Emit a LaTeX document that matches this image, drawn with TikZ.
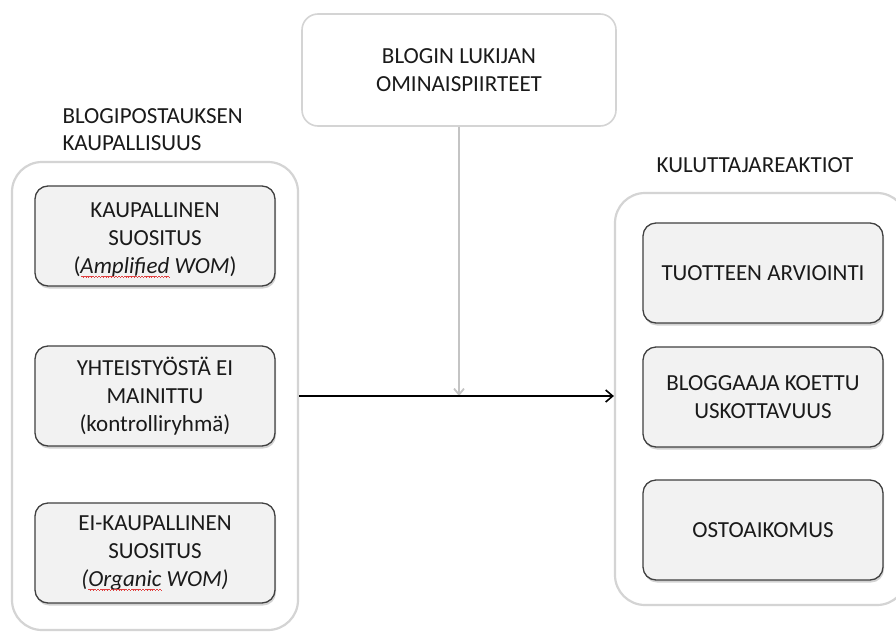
\documentclass[tikz,border=0pt]{standalone}
\usepackage{fontspec}
\setmainfont{Carlito}
\usetikzlibrary{arrows.meta,shadows}

\definecolor{ink}{HTML}{1A1A1A}
\definecolor{boxfill}{HTML}{F2F2F2}
\definecolor{boxline}{HTML}{404040}
\definecolor{paleline}{HTML}{D4D4D4}
\definecolor{arrowgray}{HTML}{C4C4C4}
\definecolor{spellred}{HTML}{E04040}

% red wavy spell-check mark under a word, built from tiny rules
\newsavebox\wordbox
\newdimen\wordwd
\newcommand\wavepiece{\hbox{%
  \rule[-3.6pt]{0.7pt}{0.7pt}\rule[-3.0pt]{0.7pt}{0.7pt}%
  \rule[-3.6pt]{0.7pt}{0.7pt}\rule[-4.2pt]{0.7pt}{0.7pt}}}
\newcommand\spellmark[1]{\leavevmode\sbox\wordbox{#1}\wordwd=\wd\wordbox\relax
  \rlap{\usebox\wordbox}%
  {\color{spellred}\xleaders\wavepiece\hskip\wordwd}}

\tikzset{
  txt/.style={font=\fontsize{23}{28}\selectfont, text=ink, align=center},
  container/.style={draw=paleline, line width=2.2pt, fill=white, rounded corners=30pt},
  topbox/.style={txt, draw=paleline, line width=1.6pt, fill=white, rounded corners=16pt,
    minimum width=314pt, minimum height=112pt},
  itembox/.style={txt, draw=boxline, line width=1.3pt, fill=boxfill, rounded corners=13pt,
    minimum width=240pt, minimum height=100pt,
    drop shadow={shadow xshift=1pt, shadow yshift=-2.5pt, opacity=0.35}},
  heading/.style={font=\fontsize{23}{27}\selectfont, text=ink},
  mainarrow/.style={line width=1.8pt, draw=black, -{Straight Barb[length=7pt,width=12pt,line width=1.6pt]}},
  sidearrow/.style={line width=2.2pt, draw=arrowgray, -{Straight Barb[length=6pt,width=10pt,line width=1.8pt]}}
}

\begin{document}
\begin{tikzpicture}[x=1pt,y=-1pt]
  \useasboundingbox (0,0) rectangle (896,632);
  \clip (0,0) rectangle (896,632);
  \fill[white] (0,0) rectangle (896,632);

  % outer groups
  \node[container, minimum width=286pt, minimum height=468pt] (leftc) at (155,396) {};
  \node[container, minimum width=292pt, minimum height=412pt] (rightc) at (761,399) {};

  % headings
  \node[heading, align=left, anchor=west] (lhead) at (59,130) {BLOGIPOSTAUKSEN\\KAUPALLISUUS};
  \node[heading] (rhead) at (755,165) {KULUTTAJAREAKTIOT};

  % moderator
  \node[topbox] (top) at (459,70) {BLOGIN LUKIJAN\\OMINAISPIIRTEET};

  % independent variable levels
  \node[itembox] (l1) at (155,236) {\rule{0pt}{23pt}KAUPALLINEN\\SUOSITUS\\(\textit{\spellmark{Amplified} WOM})};
  \node[itembox] (l2) at (155,396) {YHTEISTYÖSTÄ EI\\MAINITTU\\(kontrolliryhmä)};
  \node[itembox] (l3) at (155,553) {EI-KAUPALLINEN\\SUOSITUS\\\textit{(\spellmark{Organic} WOM)}};

  % consumer reactions
  \node[itembox] (r1) at (763,273) {TUOTTEEN ARVIOINTI};
  \node[itembox] (r2) at (763,397) {BLOGGAAJA KOETTU\\USKOTTAVUUS};
  \node[itembox] (r3) at (763,530) {OSTOAIKOMUS};

  % connectors
  \draw[sidearrow] (top.south) -- (top.south |- leftc.east);
  \draw[mainarrow] (leftc.east) -- (rightc.west |- leftc.east);
\end{tikzpicture}
\end{document}
